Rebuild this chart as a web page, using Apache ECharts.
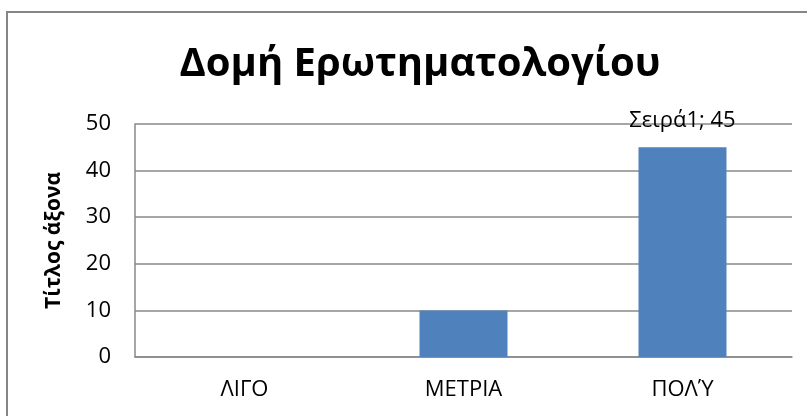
<!DOCTYPE html>
<html>
<head>
<meta charset="utf-8">
<script src="https://cdn.jsdelivr.net/npm/echarts@6/dist/echarts.min.js"></script>
<style>
  html, body { margin: 0; padding: 0; background: #fff; }
  #chart { width: 807px; height: 416px; }
</style>
</head>
<body>
<div id="chart"></div>
<script>
const categories = ['ΛΙΓΟ', 'ΜΕΤΡΙΑ', 'ΠΟΛΎ']
const values = [0, 10, 45]
const seriesName = 'Σειρά1'
const labelled = [false, false, true]

const chart = echarts.init(document.getElementById('chart'))
const font = '"Open Sans", "Noto Sans", sans-serif'

chart.setOption({
  animation: false,
  title: {
    text: 'Δομή Ερωτηματολογίου',
    left: 415,
    top: 40,
    textAlign: 'center',
    textStyle: { fontFamily: font, fontWeight: 'bold', fontSize: 40, color: '#000' }
  },
  graphic: [
    {
      type: 'rect',
      shape: { x: 7, y: 12, width: 820, height: 420 },
      style: { fill: 'none', stroke: '#868686', lineWidth: 2 },
      silent: true
    }
  ],
  grid: { left: 135, right: 15, top: 124, bottom: 59 },
  xAxis: {
    type: 'category',
    data: categories,
    axisLine: { lineStyle: { color: '#898989', width: 1.5 } },
    axisTick: { show: false },
    axisLabel: { fontFamily: font, fontSize: 22, color: '#000', margin: 22 }
  },
  yAxis: {
    type: 'value',
    min: 0,
    max: 50,
    interval: 10,
    name: 'Τίτλος άξονα',
    nameLocation: 'middle',
    nameGap: 70,
    nameRotate: 90,
    nameTextStyle: { fontFamily: font, fontWeight: 'bold', fontSize: 21, color: '#000' },
    axisLine: { show: true, lineStyle: { color: '#898989', width: 1.5 } },
    axisTick: { show: false },
    axisLabel: { fontFamily: font, fontSize: 22, color: '#000', margin: 24 },
    splitLine: { lineStyle: { color: '#898989', width: 1.5 } }
  },
  series: [
    {
      name: seriesName,
      type: 'bar',
      barWidth: 88,
      data: values.map((v, i) => ({
        value: v,
        label: {
          show: labelled[i],
          position: 'top',
          distance: 16,
          formatter: p => `${p.seriesName}; ${p.value}`,
          fontFamily: font,
          fontSize: 22,
          color: '#000'
        }
      })),
      itemStyle: { color: '#4f81bd' }
    }
  ]
})
</script>
</body>
</html>
